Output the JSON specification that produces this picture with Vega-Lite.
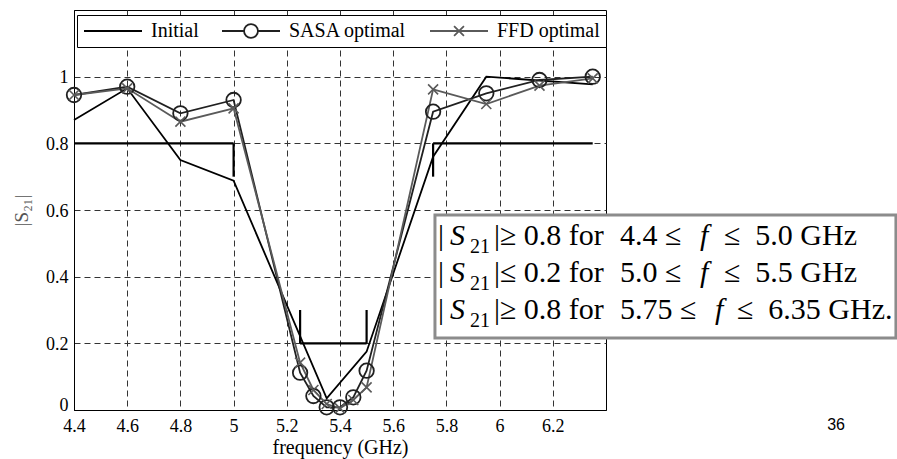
{
  "$schema": "https://vega.github.io/schema/vega-lite/v6.json",
  "width": 532,
  "height": 400,
  "autosize": {"type": "none"},
  "padding": {"left": 74, "top": 10, "right": 291, "bottom": 49},
  "background": "white",
  "datasets": {
    "curves": [
      {"s": "Initial", "f": 4.4, "v": 0.87},
      {"s": "Initial", "f": 4.6, "v": 0.965},
      {"s": "Initial", "f": 4.8, "v": 0.75},
      {"s": "Initial", "f": 5.0, "v": 0.688},
      {"s": "Initial", "f": 5.35, "v": 0.035},
      {"s": "Initial", "f": 5.5, "v": 0.175},
      {"s": "Initial", "f": 5.75, "v": 0.76},
      {"s": "Initial", "f": 5.95, "v": 1.0},
      {"s": "Initial", "f": 6.35, "v": 0.977},
      {"s": "SASA optimal", "f": 4.4, "v": 0.945},
      {"s": "SASA optimal", "f": 4.6, "v": 0.97},
      {"s": "SASA optimal", "f": 4.8, "v": 0.89},
      {"s": "SASA optimal", "f": 5.0, "v": 0.93},
      {"s": "SASA optimal", "f": 5.25, "v": 0.112},
      {"s": "SASA optimal", "f": 5.3, "v": 0.042},
      {"s": "SASA optimal", "f": 5.35, "v": 0.008},
      {"s": "SASA optimal", "f": 5.4, "v": 0.008},
      {"s": "SASA optimal", "f": 5.45, "v": 0.038},
      {"s": "SASA optimal", "f": 5.5, "v": 0.118},
      {"s": "SASA optimal", "f": 5.75, "v": 0.895},
      {"s": "SASA optimal", "f": 5.95, "v": 0.95},
      {"s": "SASA optimal", "f": 6.15, "v": 0.99},
      {"s": "SASA optimal", "f": 6.35, "v": 1.0},
      {"s": "FFD optimal", "f": 4.4, "v": 0.945},
      {"s": "FFD optimal", "f": 4.6, "v": 0.965},
      {"s": "FFD optimal", "f": 4.8, "v": 0.865},
      {"s": "FFD optimal", "f": 5.0, "v": 0.905},
      {"s": "FFD optimal", "f": 5.25, "v": 0.142},
      {"s": "FFD optimal", "f": 5.3, "v": 0.06},
      {"s": "FFD optimal", "f": 5.35, "v": 0.018},
      {"s": "FFD optimal", "f": 5.4, "v": 0.005},
      {"s": "FFD optimal", "f": 5.45, "v": 0.03},
      {"s": "FFD optimal", "f": 5.5, "v": 0.068},
      {"s": "FFD optimal", "f": 5.75, "v": 0.962},
      {"s": "FFD optimal", "f": 5.95, "v": 0.918},
      {"s": "FFD optimal", "f": 6.15, "v": 0.973},
      {"s": "FFD optimal", "f": 6.35, "v": 0.995}
    ],
    "spec": [
      {"f": 4.4, "f2": 5.0, "v": 0.8, "v2": 0.8},
      {"f": 5.0, "f2": 5.0, "v": 0.8, "v2": 0.7},
      {"f": 5.25, "f2": 5.5, "v": 0.2, "v2": 0.2},
      {"f": 5.25, "f2": 5.25, "v": 0.2, "v2": 0.3},
      {"f": 5.5, "f2": 5.5, "v": 0.2, "v2": 0.3},
      {"f": 5.75, "f2": 6.35, "v": 0.8, "v2": 0.8},
      {"f": 5.75, "f2": 5.75, "v": 0.8, "v2": 0.7}
    ],
    "anchor": [{}]
  },
  "config": {
    "view": {"stroke": "black", "strokeWidth": 1},
    "axis": {
      "domain": true,
      "domainColor": "black",
      "domainWidth": 1,
      "ticks": false,
      "grid": true,
      "gridColor": "#333333",
      "gridDash": [6, 4],
      "gridWidth": 1,
      "gridOpacity": 1,
      "labelColor": "black",
      "labelFlush": false,
      "labelOverlap": false,
      "titleFontWeight": "normal"
    },
    "text": {
      "font": "Liberation Serif, serif",
      "fontSize": 30,
      "align": "left",
      "baseline": "alphabetic",
      "color": "black"
    }
  },
  "layer": [
    {
      "data": {"name": "spec"},
      "mark": {"type": "rule", "color": "black", "strokeWidth": 2.2},
      "encoding": {
        "x": {
          "field": "f",
          "type": "quantitative",
          "scale": {"domain": [4.4, 6.4], "nice": false, "zero": false},
          "axis": {
            "values": [4.4, 4.6, 4.8, 5, 5.2, 5.4, 5.6, 5.8, 6, 6.2],
            "format": "~g",
            "labelFont": "Liberation Serif, serif",
            "labelFontSize": 18,
            "labelPadding": 7,
            "title": "frequency (GHz)",
            "titleFont": "Liberation Serif, serif",
            "titleFontSize": 20,
            "titleColor": "black",
            "titlePadding": 2
          }
        },
        "y": {
          "field": "v",
          "type": "quantitative",
          "scale": {"domain": [0, 1.2], "nice": false, "zero": false},
          "axis": {
            "values": [0, 0.2, 0.4, 0.6, 0.8, 1],
            "format": "~g",
            "labelFont": "Liberation Serif, serif",
            "labelFontSize": 18,
            "labelPadding": 6,
            "labelOffset": {"condition": {"test": "datum.value === 0", "value": -5}, "value": 1},
            "title": "|S₂₁|",
            "titleFont": "Liberation Serif, serif",
            "titleFontSize": 19,
            "titleColor": "#555555",
            "titlePadding": 14
          }
        },
        "x2": {"field": "f2"},
        "y2": {"field": "v2"}
      }
    },
    {
      "data": {"name": "curves"},
      "mark": {"type": "line", "strokeWidth": 1.8},
      "encoding": {
        "x": {"field": "f", "type": "quantitative"},
        "y": {"field": "v", "type": "quantitative"},
        "color": {
          "field": "s",
          "type": "nominal",
          "scale": {
            "domain": ["Initial", "SASA optimal", "FFD optimal"],
            "range": ["#000000", "#202020", "#5a5a5a"]
          },
          "legend": {
            "orient": "none",
            "legendX": 3,
            "legendY": 5,
            "direction": "horizontal",
            "title": null,
            "padding": 6,
            "strokeColor": "black",
            "fillColor": "white",
            "cornerRadius": 0,
            "clipHeight": 20,
            "symbolSize": 3364,
            "symbolStrokeWidth": 1.8,
            "symbolFillColor": "white",
            "labelFont": "Liberation Serif, serif",
            "labelFontSize": 20,
            "labelColor": "black",
            "labelOffset": 8,
            "labelLimit": 300,
            "columnPadding": 22,
            "encode": {
              "symbols": {
                "update": {
                  "shape": {
                    "signal": "datum.value === 'Initial' ? 'M-1,0H1' : datum.value === 'SASA optimal' ? 'M-1,0H-0.24M0.24,0H1M-0.24,0A0.24,0.24,0,1,1,0.24,0A0.24,0.24,0,1,1,-0.24,0Z' : 'M-1,0H1M-0.17,-0.17L0.17,0.17M-0.17,0.17L0.17,-0.17'"
                  },
                  "fill": {"value": "white"},
                  "opacity": {"value": 1}
                }
              }
            }
          }
        }
      }
    },
    {
      "data": {"name": "curves"},
      "transform": [{"filter": "datum.s === 'SASA optimal'"}],
      "mark": {"type": "point", "shape": "circle", "size": 210, "filled": false, "stroke": "#202020", "strokeWidth": 1.8, "opacity": 1},
      "encoding": {
        "x": {"field": "f", "type": "quantitative"},
        "y": {"field": "v", "type": "quantitative"}
      }
    },
    {
      "data": {"name": "curves"},
      "transform": [{"filter": "datum.s === 'FFD optimal'"}],
      "mark": {"type": "point", "shape": "M-1,-1L1,1M-1,1L1,-1", "size": 100, "filled": false, "stroke": "#5a5a5a", "strokeWidth": 1.6, "opacity": 1},
      "encoding": {
        "x": {"field": "f", "type": "quantitative"},
        "y": {"field": "v", "type": "quantitative"}
      }
    },
    {
      "data": {"name": "anchor"},
      "mark": {"type": "rect", "fill": "white", "stroke": "#8c8c8c", "strokeWidth": 3},
      "encoding": {
        "x": {"datum": 5.757, "type": "quantitative"},
        "x2": {"datum": 7.49},
        "y": {"datum": 0.585, "type": "quantitative"},
        "y2": {"datum": 0.216}
      }
    },
    {"data": {"name": "anchor"}, "mark": {"type": "text", "dx": 0}, "encoding": {"x": {"datum": 5.768, "type": "quantitative"}, "y": {"datum": 0.495, "type": "quantitative"}, "text": {"value": "|"}}},
    {"data": {"name": "anchor"}, "mark": {"type": "text", "dx": 12, "fontStyle": "italic"}, "encoding": {"x": {"datum": 5.768, "type": "quantitative"}, "y": {"datum": 0.495, "type": "quantitative"}, "text": {"value": "S"}}},
    {"data": {"name": "anchor"}, "mark": {"type": "text", "dx": 32, "dy": 8, "fontSize": 20}, "encoding": {"x": {"datum": 5.768, "type": "quantitative"}, "y": {"datum": 0.495, "type": "quantitative"}, "text": {"value": "21"}}},
    {"data": {"name": "anchor"}, "mark": {"type": "text", "dx": 56}, "encoding": {"x": {"datum": 5.768, "type": "quantitative"}, "y": {"datum": 0.495, "type": "quantitative"}, "text": {"value": "|≥ 0.8 for"}}},
    {"data": {"name": "anchor"}, "mark": {"type": "text", "dx": 182}, "encoding": {"x": {"datum": 5.768, "type": "quantitative"}, "y": {"datum": 0.495, "type": "quantitative"}, "text": {"value": "4.4 ≤"}}},
    {"data": {"name": "anchor"}, "mark": {"type": "text", "dx": 262, "fontStyle": "italic"}, "encoding": {"x": {"datum": 5.768, "type": "quantitative"}, "y": {"datum": 0.495, "type": "quantitative"}, "text": {"value": "f"}}},
    {"data": {"name": "anchor"}, "mark": {"type": "text", "dx": 286}, "encoding": {"x": {"datum": 5.768, "type": "quantitative"}, "y": {"datum": 0.495, "type": "quantitative"}, "text": {"value": "≤\u20025.0 GHz"}}},
    {"data": {"name": "anchor"}, "mark": {"type": "text", "dx": 0}, "encoding": {"x": {"datum": 5.768, "type": "quantitative"}, "y": {"datum": 0.384, "type": "quantitative"}, "text": {"value": "|"}}},
    {"data": {"name": "anchor"}, "mark": {"type": "text", "dx": 12, "fontStyle": "italic"}, "encoding": {"x": {"datum": 5.768, "type": "quantitative"}, "y": {"datum": 0.384, "type": "quantitative"}, "text": {"value": "S"}}},
    {"data": {"name": "anchor"}, "mark": {"type": "text", "dx": 32, "dy": 8, "fontSize": 20}, "encoding": {"x": {"datum": 5.768, "type": "quantitative"}, "y": {"datum": 0.384, "type": "quantitative"}, "text": {"value": "21"}}},
    {"data": {"name": "anchor"}, "mark": {"type": "text", "dx": 56}, "encoding": {"x": {"datum": 5.768, "type": "quantitative"}, "y": {"datum": 0.384, "type": "quantitative"}, "text": {"value": "|≤ 0.2 for"}}},
    {"data": {"name": "anchor"}, "mark": {"type": "text", "dx": 182}, "encoding": {"x": {"datum": 5.768, "type": "quantitative"}, "y": {"datum": 0.384, "type": "quantitative"}, "text": {"value": "5.0 ≤"}}},
    {"data": {"name": "anchor"}, "mark": {"type": "text", "dx": 262, "fontStyle": "italic"}, "encoding": {"x": {"datum": 5.768, "type": "quantitative"}, "y": {"datum": 0.384, "type": "quantitative"}, "text": {"value": "f"}}},
    {"data": {"name": "anchor"}, "mark": {"type": "text", "dx": 286}, "encoding": {"x": {"datum": 5.768, "type": "quantitative"}, "y": {"datum": 0.384, "type": "quantitative"}, "text": {"value": "≤\u20025.5 GHz"}}},
    {"data": {"name": "anchor"}, "mark": {"type": "text", "dx": 0}, "encoding": {"x": {"datum": 5.768, "type": "quantitative"}, "y": {"datum": 0.273, "type": "quantitative"}, "text": {"value": "|"}}},
    {"data": {"name": "anchor"}, "mark": {"type": "text", "dx": 12, "fontStyle": "italic"}, "encoding": {"x": {"datum": 5.768, "type": "quantitative"}, "y": {"datum": 0.273, "type": "quantitative"}, "text": {"value": "S"}}},
    {"data": {"name": "anchor"}, "mark": {"type": "text", "dx": 32, "dy": 8, "fontSize": 20}, "encoding": {"x": {"datum": 5.768, "type": "quantitative"}, "y": {"datum": 0.273, "type": "quantitative"}, "text": {"value": "21"}}},
    {"data": {"name": "anchor"}, "mark": {"type": "text", "dx": 56}, "encoding": {"x": {"datum": 5.768, "type": "quantitative"}, "y": {"datum": 0.273, "type": "quantitative"}, "text": {"value": "|≥ 0.8 for"}}},
    {"data": {"name": "anchor"}, "mark": {"type": "text", "dx": 182}, "encoding": {"x": {"datum": 5.768, "type": "quantitative"}, "y": {"datum": 0.273, "type": "quantitative"}, "text": {"value": "5.75 ≤"}}},
    {"data": {"name": "anchor"}, "mark": {"type": "text", "dx": 277, "fontStyle": "italic"}, "encoding": {"x": {"datum": 5.768, "type": "quantitative"}, "y": {"datum": 0.273, "type": "quantitative"}, "text": {"value": "f"}}},
    {"data": {"name": "anchor"}, "mark": {"type": "text", "dx": 299}, "encoding": {"x": {"datum": 5.768, "type": "quantitative"}, "y": {"datum": 0.273, "type": "quantitative"}, "text": {"value": "≤\u20026.35 GHz."}}},
    {
      "data": {"name": "anchor"},
      "mark": {"type": "text", "font": "Liberation Sans, sans-serif", "fontSize": 16, "align": "center", "baseline": "middle"},
      "encoding": {"x": {"datum": 7.265, "type": "quantitative"}, "y": {"datum": -0.045, "type": "quantitative"}, "text": {"value": "36"}}
    }
  ]
}
